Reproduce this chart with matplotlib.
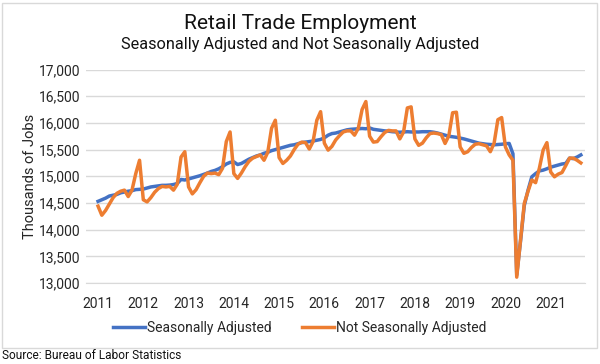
import numpy as np
import matplotlib
matplotlib.use("Agg")
import matplotlib.pyplot as plt
from matplotlib.patches import Rectangle

plt.rcParams['font.family'] = ['Roboto', 'DejaVu Sans']

# Datos mensuales, enero 2011 - septiembre 2021 (miles de empleos)
years = ['2011', '2012', '2013', '2014', '2015', '2016',
         '2017', '2018', '2019', '2020', '2021']

seasonally_adjusted = [
    14530, 14560, 14590, 14630, 14645, 14660, 14690, 14705, 14720, 14730, 14750, 14755,  # 2011
    14760, 14780, 14800, 14810, 14820, 14830, 14830, 14835, 14845, 14865, 14940, 14930,  # 2012
    14950, 14970, 14990, 15010, 15035, 15060, 15090, 15110, 15140, 15180, 15230, 15260,  # 2013
    15270, 15220, 15240, 15280, 15320, 15350, 15380, 15400, 15430, 15450, 15480, 15500,  # 2014
    15520, 15540, 15560, 15580, 15590, 15610, 15630, 15640, 15650, 15660, 15675, 15690,  # 2015
    15720, 15770, 15800, 15810, 15830, 15850, 15870, 15880, 15885, 15890, 15895, 15890,  # 2016
    15905, 15880, 15870, 15860, 15850, 15845, 15835, 15830, 15825, 15830, 15835, 15830,  # 2017
    15830, 15830, 15835, 15835, 15835, 15825, 15810, 15790, 15770, 15750, 15740, 15730,  # 2018
    15715, 15700, 15680, 15660, 15640, 15620, 15610, 15600, 15595, 15590, 15595, 15600,  # 2019
    15610, 15615, 15420, 13150, 13780, 14450, 14740, 14990, 15050, 15100, 15115, 15140,  # 2020
    15170, 15190, 15210, 15230, 15240, 15340, 15330, 15360, 15400,                       # 2021
]

not_seasonally_adjusted = [
    14440, 14270, 14360, 14480, 14600, 14680, 14720, 14740, 14620, 14740, 15050, 15300,  # 2011
    14560, 14520, 14600, 14700, 14770, 14810, 14800, 14810, 14740, 14850, 15360, 15460,  # 2012
    14800, 14670, 14750, 14880, 15000, 15060, 15050, 15060, 15030, 15150, 15650, 15830,  # 2013
    15050, 14960, 15060, 15180, 15280, 15340, 15370, 15400, 15300, 15450, 15900, 16050,  # 2014
    15350, 15240, 15300, 15380, 15500, 15600, 15640, 15630, 15510, 15650, 16050, 16210,  # 2015
    15620, 15490, 15560, 15680, 15760, 15830, 15850, 15850, 15770, 15900, 16250, 16400,  # 2016
    15750, 15640, 15650, 15740, 15820, 15860, 15850, 15850, 15700, 15830, 16280, 16300,  # 2017
    15700, 15580, 15620, 15720, 15800, 15810, 15800, 15780, 15615, 15760, 16190, 16200,  # 2018
    15550, 15430, 15460, 15540, 15600, 15610, 15590, 15570, 15460, 15620, 16060, 16100,  # 2019
    15550, 15400, 15300, 13110, 13800, 14490, 14720, 14930, 14880, 15150, 15490, 15630,  # 2020
    15080, 14990, 15040, 15070, 15200, 15340, 15340, 15300, 15250,                       # 2021
]

months = np.arange(len(seasonally_adjusted))

fig = plt.figure(figsize=(6, 3.64), dpi=100)
ax = fig.add_axes([0.1433, 0.2225, 0.8317, 0.5865])

ax.plot(months, seasonally_adjusted, color='#4472C4', lw=2.5, label='Seasonally Adjusted')
ax.plot(months, not_seasonally_adjusted, color='#ED7D31', lw=2.5, label='Not Seasonally Adjusted')

ax.set_ylim(13000, 17000)
ax.set_xlim(-3.2, 129.1)
ax.set_yticks(np.arange(13000, 17001, 500))
ax.set_yticklabels([f'{v:,}' for v in range(13000, 17001, 500)])
ax.set_xticks(np.arange(0, 121, 12))
ax.set_xticklabels(years)
ax.tick_params(axis='both', length=0, labelsize=10, colors='#262626')
ax.tick_params(axis='x', pad=10)
ax.tick_params(axis='y', pad=4)
ax.grid(axis='y', color='#d9d9d9', lw=1)
ax.set_axisbelow(True)
for s in ['top', 'right', 'left']:
    ax.spines[s].set_visible(False)
ax.spines['bottom'].set_color('#d9d9d9')

ax.set_ylabel('Thousands of Jobs', fontsize=10.5, color='#262626', labelpad=1)

fig.text(0.5, 0.935, 'Retail Trade Employment', ha='center', va='center', fontsize=15,
         color='#111111')
fig.text(0.5, 0.877, 'Seasonally Adjusted and Not Seasonally Adjusted', ha='center', va='center',
         fontsize=11.7, color='#111111')

fig.legend(loc='center', bbox_to_anchor=(0.5, 0.10), ncol=2, frameon=False, fontsize=10,
           handlelength=2.3, handletextpad=0.15, columnspacing=2.2, labelcolor='#262626')

fig.text(0.003, 0.022, 'Source: Bureau of Labor Statistics', ha='left', va='center', fontsize=8.6,
         color='#111111')

# Borde del área del gráfico
fig.add_artist(Rectangle((2 / 600, 1 - 348 / 364), 595 / 600, 345 / 364, transform=fig.transFigure,
                         fill=False, edgecolor='#d9d9d9', lw=1))

fig.savefig('out.png', dpi=100)
